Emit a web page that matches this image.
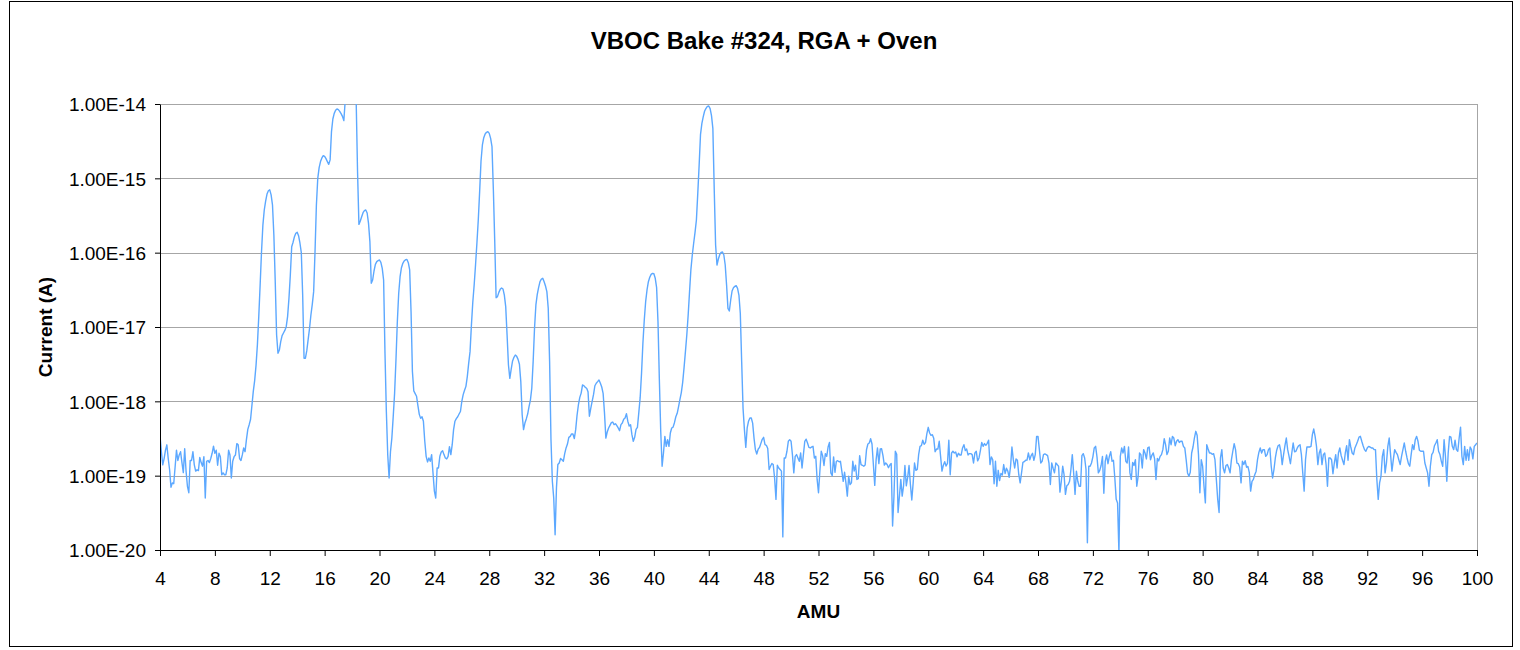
<!DOCTYPE html>
<html>
<head>
<meta charset="utf-8">
<script src="https://cdn.jsdelivr.net/npm/d3@7"></script>
<style>
	body { margin: 0; background: #fff; }
	text { font-family: 'Liberation Sans', Arial, sans-serif; fill: #000; }
</style>
</head>
<body>
<div class="container"></div>
<script>
var title = 'VBOC Bake #324, RGA + Oven';
var xTitle = 'AMU';
var yTitle = 'Current (A)';

var xTicks = [4, 8, 12, 16, 20, 24, 28, 32, 36, 40, 44, 48, 52, 56, 60, 64, 68, 72, 76, 80, 84, 88, 92, 96, 100];
var yTicks = [1e-20, 1e-19, 1e-18, 1e-17, 1e-16, 1e-15, 1e-14];

// scan starts at 4 AMU, one reading every 0.1 AMU
var amuStart = 4;
var amuStep = 0.1;

// current (A), one row per AMU
var current = [
	3.5e-19, 2.1e-19, 1.4e-19, 1.7e-19, 2.2e-19, 2.6e-19, 1.7e-19, 1.2e-19, 7.0e-20, 8.0e-20, // 4
	7.8e-20, 1.3e-19, 2.2e-19, 1.6e-19, 1.9e-19, 2.1e-19, 1.5e-19, 1.1e-19, 2.3e-19, 1.15e-19, // 5
	7.2e-20, 5.9e-20, 1.6e-19, 1.6e-19, 2.1e-19, 1.4e-19, 1.15e-19, 1.2e-19, 1.17e-19, 1.76e-19, // 6
	1.5e-19, 1.34e-19, 1.8e-19, 5.0e-20, 1.56e-19, 1.6e-19, 1.5e-19, 1.7e-19, 2.0e-19, 2.5e-19, // 7
	2.0e-19, 2.2e-19, 1.38e-19, 2.0e-19, 1.8e-19, 1.03e-19, 1.09e-19, 1.03e-19, 1.03e-19, 1.27e-19, // 8
	2.2e-19, 1.9e-19, 9.3e-20, 1.56e-19, 1.8e-19, 1.9e-19, 2.7e-19, 2.6e-19, 1.7e-19, 1.6e-19, // 9
	1.9e-19, 2.36e-19, 2.1e-19, 3.05e-19, 4.2e-19, 4.85e-19, 5.7e-19, 8.8e-19, 1.36e-18, 1.9e-18, // 10
	3.05e-18, 5.8e-18, 1.39e-17, 3.7e-17, 1.03e-16, 2.35e-16, 3.75e-16, 4.95e-16, 6.15e-16, 6.8e-16, // 11
	7.0e-16, 6.0e-16, 4.38e-16, 1.73e-16, 4.07e-17, 7.8e-18, 4.43e-18, 4.9e-18, 6.35e-18, 7.65e-18, // 12
	8.3e-18, 9.0e-18, 1.01e-17, 1.38e-17, 2.43e-17, 5.0e-17, 1.2e-16, 1.38e-16, 1.64e-16, 1.82e-16, // 13
	1.88e-16, 1.69e-16, 1.35e-16, 1.0e-16, 2.7e-17, 3.79e-18, 3.8e-18, 4.8e-18, 6.8e-18, 9.6e-18, // 14
	1.45e-17, 2.02e-17, 2.99e-17, 1.03e-16, 4.38e-16, 1.0e-15, 1.39e-15, 1.68e-15, 1.88e-15, 2.02e-15, // 15
	1.98e-15, 1.84e-15, 1.68e-15, 1.54e-15, 1.77e-15, 4.25e-15, 6.28e-15, 7.48e-15, 8.22e-15, 8.57e-15, // 16
	8.39e-15, 7.97e-15, 7.41e-15, 6.82e-15, 5.97e-15, 1.1e-14, 1.3e-14, 1.4e-14, 1.5e-14, 1.5e-14, // 17
	1.5e-14, 1.4e-14, 1.3e-14, 1.1e-14, 1.23e-15, 2.4e-16, 2.67e-16, 3.05e-16, 3.45e-16, 3.67e-16, // 18
	3.75e-16, 3.42e-16, 2.48e-16, 1.41e-16, 3.87e-17, 4.29e-17, 5.67e-17, 6.97e-17, 7.57e-17, 7.8e-17, // 19
	7.97e-17, 7.41e-17, 6.15e-17, 4.29e-17, 4.43e-18, 7.26e-19, 1.92e-19, 9.3e-20, 2.1e-19, 3.2e-19, // 20
	6.22e-19, 1.28e-18, 3.6e-18, 1.18e-17, 2.84e-17, 4.75e-17, 6.28e-17, 7.19e-17, 7.73e-17, 8.05e-17, // 21
	8.1e-17, 7.33e-17, 5.85e-17, 1.61e-17, 2.51e-18, 1.38e-18, 1.27e-18, 1.17e-18, 8.75e-19, 6.68e-19, // 22
	5.9e-19, 6.2e-19, 5.4e-19, 2.9e-19, 1.82e-19, 1.53e-19, 1.73e-19, 1.56e-19, 1.92e-19, 1.09e-19, // 23
	6.2e-20, 5.0e-20, 1.27e-19, 1.27e-19, 1.82e-19, 2.08e-19, 2.17e-19, 1.92e-19, 1.73e-19, 1.68e-19, // 24
	1.82e-19, 2.46e-19, 1.92e-19, 2.61e-19, 4.16e-19, 5.4e-19, 5.85e-19, 6.2e-19, 6.75e-19, 7.3e-19, // 25
	1.0e-18, 1.23e-18, 1.41e-18, 1.59e-18, 2.15e-18, 3.24e-18, 4.66e-18, 1.06e-17, 2.15e-17, 3.67e-17, // 26
	6.83e-17, 1.34e-16, 2.75e-16, 6.62e-16, 1.71e-15, 2.81e-15, 3.52e-15, 3.95e-15, 4.16e-15, 4.25e-15, // 27
	4.03e-15, 3.45e-15, 2.67e-15, 7.0e-16, 1.41e-16, 2.48e-17, 2.56e-17, 2.92e-17, 3.21e-17, 3.35e-17, // 28
	3.25e-17, 2.69e-17, 1.88e-17, 7.8e-18, 3.08e-18, 2.04e-18, 2.72e-18, 3.49e-18, 3.91e-18, 4.2e-18, // 29
	4.03e-18, 3.67e-18, 3.15e-18, 1.84e-18, 6.6e-19, 4.16e-19, 5.1e-19, 5.8e-19, 6.75e-19, 8.48e-19, // 30
	1.04e-18, 1.5e-18, 3.42e-18, 9.6e-18, 1.98e-17, 2.75e-17, 3.42e-17, 4.07e-17, 4.42e-17, 4.52e-17, // 31
	4.07e-17, 3.56e-17, 2.99e-17, 1.78e-17, 3.42e-18, 3.05e-19, 8.4e-20, 5.0e-20, 1.6e-20, 6.9e-20, // 32
	1.41e-19, 1.48e-19, 1.7e-19, 1.64e-19, 1.56e-19, 1.98e-19, 2.36e-19, 2.66e-19, 3.28e-19, 3.38e-19, // 33
	3.64e-19, 3.64e-19, 3.15e-19, 4.16e-19, 6.5e-19, 9.0e-19, 1.13e-18, 1.29e-18, 1.66e-18, 1.62e-18, // 34
	1.54e-18, 1.5e-18, 1.35e-18, 6.3e-19, 8.05e-19, 1.0e-18, 1.23e-18, 1.62e-18, 1.75e-18, 1.84e-18, // 35
	1.94e-18, 1.75e-18, 1.56e-18, 1.28e-18, 7.0e-19, 3.2e-19, 3.87e-19, 4.38e-19, 4.75e-19, 5.16e-19, // 36
	5.27e-19, 4.86e-19, 5.0e-19, 4.7e-19, 4.38e-19, 4.03e-19, 4.86e-19, 5.1e-19, 5.73e-19, 5.97e-19, // 37
	6.83e-19, 5.4e-19, 4.66e-19, 4.86e-19, 3.56e-19, 2.9e-19, 3.28e-19, 4.2e-19, 4.47e-19, 7.0e-19, // 38
	1.12e-18, 2.38e-18, 6.03e-18, 1.24e-17, 2.19e-17, 3.15e-17, 4.07e-17, 4.66e-17, 5.11e-17, 5.27e-17, // 39
	5.2e-17, 4.52e-17, 3.38e-17, 1.18e-17, 1.94e-18, 3.95e-19, 1.34e-19, 2.02e-19, 3.38e-19, 2.48e-19, // 40
	3.05e-19, 2.48e-19, 3.75e-19, 4.38e-19, 4.5e-19, 5.16e-19, 6.2e-19, 6.9e-19, 8.48e-19, 1.06e-18, // 41
	1.31e-18, 1.8e-18, 2.84e-18, 4.66e-18, 7.8e-18, 1.45e-17, 2.99e-17, 5.97e-17, 9.3e-17, 1.34e-16, // 42
	1.88e-16, 2.75e-16, 6.28e-16, 1.51e-15, 3.91e-15, 5.5e-15, 6.76e-15, 8.05e-15, 8.74e-15, 9.3e-15, // 43
	9.4e-15, 8.65e-15, 6.97e-15, 4.7e-15, 7.0e-16, 1.27e-16, 6.83e-17, 8.22e-17, 9.4e-17, 1.01e-16, // 44
	1.02e-16, 9.3e-17, 6.83e-17, 3.67e-17, 1.78e-17, 1.64e-17, 2.31e-17, 3.05e-17, 3.38e-17, 3.52e-17, // 45
	3.6e-17, 3.31e-17, 2.69e-17, 1.53e-17, 3.42e-18, 8.05e-19, 4.16e-19, 2.4e-19, 4.38e-19, 5.4e-19, // 46
	5.97e-19, 5.97e-19, 5.1e-19, 3.2e-19, 2.24e-19, 1.96e-19, 2.27e-19, 2.4e-19, 2.72e-19, 3.08e-19, // 47
	3.28e-19, 2.61e-19, 2.56e-19, 2.32e-19, 1.21e-19, 1.34e-19, 1.46e-19, 1.41e-19, 9.3e-20, 4.8e-20, // 48
	1.38e-19, 1.27e-19, 1.21e-19, 1.15e-19, 1.5e-20, 1.73e-19, 1.73e-19, 2.13e-19, 2.9e-19, 3.05e-19, // 49
	2.9e-19, 1.92e-19, 1.09e-19, 1.82e-19, 1.92e-19, 1.73e-19, 1.56e-19, 2.02e-19, 1.27e-19, 1.92e-19, // 50
	2.9e-19, 3.1e-19, 2.75e-19, 2.4e-19, 2.36e-19, 2.43e-19, 2.48e-19, 1.73e-19, 1.82e-19, 8.9e-20, // 51
	5.9e-20, 1.15e-19, 2.13e-19, 1.86e-19, 1.37e-19, 1.98e-19, 1.82e-19, 2.43e-19, 2.8e-19, 1.09e-19, // 52
	1.0e-19, 1.79e-19, 1.11e-19, 1.56e-19, 1.59e-19, 1.54e-19, 1.56e-19, 1.15e-19, 8.4e-20, 1.11e-19, // 53
	8.0e-20, 5.3e-20, 9.8e-20, 7.6e-20, 8.0e-20, 1.56e-19, 1.15e-19, 1.38e-19, 8.9e-20, 9.1e-20, // 54
	1.86e-19, 1.41e-19, 1.38e-19, 1.34e-19, 1.39e-19, 2.24e-19, 2.67e-19, 2.75e-19, 3.14e-19, 2.67e-19, // 55
	1.41e-19, 7.4e-20, 1.64e-19, 2.36e-19, 1.45e-19, 2.28e-19, 2.3e-19, 1.86e-19, 1.39e-19, 1.48e-19, // 56
	1.41e-19, 1.28e-19, 1.39e-19, 1.46e-19, 2.1e-20, 5.3e-20, 2.13e-19, 1.94e-19, 3.2e-20, 5.3e-20, // 57
	8.9e-20, 5.3e-20, 7.3e-20, 1.37e-19, 7.3e-20, 9.5e-20, 1.37e-19, 7.6e-20, 4.7e-20, 8.0e-20, // 58
	1.48e-19, 1.18e-19, 1.21e-19, 1.92e-19, 2.48e-19, 2.53e-19, 3.0e-19, 2.64e-19, 2.78e-19, 3.68e-19, // 59
	4.47e-19, 3.75e-19, 3.49e-19, 3.56e-19, 3.18e-19, 2.1e-19, 2.28e-19, 2.28e-19, 2.9e-19, 1.82e-19, // 60
	1.15e-19, 1.38e-19, 1.54e-19, 1.35e-19, 1.46e-19, 3.0e-19, 1.03e-19, 2.02e-19, 2.13e-19, 2.02e-19, // 61
	2.08e-19, 1.79e-19, 2.0e-19, 1.9e-19, 1.9e-19, 2.36e-19, 2.61e-19, 2.17e-19, 2.28e-19, 1.9e-19, // 62
	1.98e-19, 1.98e-19, 1.92e-19, 1.48e-19, 2.02e-19, 2.13e-19, 1.58e-19, 1.73e-19, 2.17e-19, 2.8e-19, // 63
	2.48e-19, 2.7e-19, 2.56e-19, 2.72e-19, 3.0e-19, 1.41e-19, 1.79e-19, 1.64e-19, 7.8e-20, 1.56e-19, // 64
	7.2e-20, 1.18e-19, 8.6e-20, 1.07e-19, 1.02e-19, 1.41e-19, 1.07e-19, 1.26e-19, 1.15e-19, 9.5e-20, // 65
	1.34e-19, 2.43e-19, 1.64e-19, 1.27e-19, 1.68e-19, 1.61e-19, 1.03e-19, 8.0e-20, 1.09e-19, 1.51e-19, // 66
	1.54e-19, 1.61e-19, 1.62e-19, 2.02e-19, 1.64e-19, 1.86e-19, 2.0e-19, 1.61e-19, 1.92e-19, 3.38e-19, // 67
	3.38e-19, 2.24e-19, 1.48e-19, 1.56e-19, 1.92e-19, 1.96e-19, 1.92e-19, 1.86e-19, 1.48e-19, 7.6e-20, // 68
	1.48e-19, 1.26e-19, 1.09e-19, 1.48e-19, 1.41e-19, 1.34e-19, 6.0e-20, 8.4e-20, 1.34e-19, 1.03e-19, // 69
	5.6e-20, 7.3e-20, 7.6e-20, 8.4e-20, 1.21e-19, 1.92e-19, 1.09e-19, 5.6e-20, 1.15e-19, 8.4e-20, // 70
	7.2e-20, 7.2e-20, 1.86e-19, 1.98e-19, 1.73e-19, 1.21e-19, 1.25e-20, 1.34e-19, 1.34e-19, 1.48e-19, // 71
	1.79e-19, 2.36e-19, 2.48e-19, 1.79e-19, 1.09e-19, 1.18e-19, 1.37e-19, 1.82e-19, 5.8e-20, 1.56e-19, // 72
	1.9e-19, 1.45e-19, 1.82e-19, 2.1e-19, 1.56e-19, 1.61e-19, 9.3e-20, 4.8e-20, 4.3e-20, 9.0e-21, // 73
	1.82e-19, 2.36e-19, 2.02e-19, 2.48e-19, 1.56e-19, 1.48e-19, 2.43e-19, 1.09e-19, 8.9e-20, 1.51e-19, // 74
	1.37e-19, 1.64e-19, 7.2e-20, 9.8e-20, 2.02e-19, 1.92e-19, 1.27e-19, 2.24e-19, 2.02e-19, 1.68e-19, // 75
	2.36e-19, 2.43e-19, 1.64e-19, 1.88e-19, 2.02e-19, 1.68e-19, 8.9e-20, 1.71e-19, 1.58e-19, 1.82e-19, // 76
	1.92e-19, 2.24e-19, 3.14e-19, 2.61e-19, 1.92e-19, 2.13e-19, 3.21e-19, 2.61e-19, 3.38e-19, 3.21e-19, // 77
	2.53e-19, 2.9e-19, 3.05e-19, 2.8e-19, 2.9e-19, 2.9e-19, 2.48e-19, 2.36e-19, 1.64e-19, 1.09e-19, // 78
	9.8e-20, 1.11e-19, 2.02e-19, 2.43e-19, 3.21e-19, 3.95e-19, 3.49e-19, 1.92e-19, 5.9e-20, 1.64e-19, // 79
	1.34e-19, 7.2e-20, 4.3e-20, 2.61e-19, 2.28e-19, 2.02e-19, 2.02e-19, 1.94e-19, 1.98e-19, 1.64e-19, // 80
	8.9e-20, 4.8e-20, 3.2e-20, 1.73e-19, 2.24e-19, 1.27e-19, 1.09e-19, 1.37e-19, 1.41e-19, 1.27e-19, // 81
	1.09e-19, 1.64e-19, 2.13e-19, 2.7e-19, 2.24e-19, 1.48e-19, 1.45e-19, 1.31e-19, 8.0e-20, 1.56e-19, // 82
	1.41e-19, 1.59e-19, 1.3e-19, 1.33e-19, 1.11e-19, 6.2e-20, 8.4e-20, 8.9e-20, 1.03e-19, 1.15e-19, // 83
	1.64e-19, 2.06e-19, 2.36e-19, 2.02e-19, 2.24e-19, 2.24e-19, 1.82e-19, 1.92e-19, 2.24e-19, 2.36e-19, // 84
	1.34e-19, 9.3e-20, 1.21e-19, 1.73e-19, 2.2e-19, 2.53e-19, 2.61e-19, 2.13e-19, 1.41e-19, 1.92e-19, // 85
	2.53e-19, 3.21e-19, 2.24e-19, 1.82e-19, 1.45e-19, 2.02e-19, 2.75e-19, 2.1e-19, 2.13e-19, 2.36e-19, // 86
	2.53e-19, 2.61e-19, 1.92e-19, 1.09e-19, 6.2e-20, 1.64e-19, 2.43e-19, 2.43e-19, 2.43e-19, 2.48e-19, // 87
	3.56e-19, 4.24e-19, 3.38e-19, 2.48e-19, 1.41e-19, 2.02e-19, 2.28e-19, 1.41e-19, 1.92e-19, 2.02e-19, // 88
	1.41e-19, 7.2e-20, 1.73e-19, 1.73e-19, 1.64e-19, 1.06e-19, 1.48e-19, 1.92e-19, 1.27e-19, 2.02e-19, // 89
	2.36e-19, 1.86e-19, 1.61e-19, 1.41e-19, 2.02e-19, 2.53e-19, 1.61e-19, 3.05e-19, 2.43e-19, 2.02e-19, // 90
	1.92e-19, 2.36e-19, 2.61e-19, 2.9e-19, 3.3e-19, 3.38e-19, 2.9e-19, 2.53e-19, 2.24e-19, 2.13e-19, // 91
	2.36e-19, 2.48e-19, 2.43e-19, 2.36e-19, 2.36e-19, 2.24e-19, 2.24e-19, 8.9e-20, 4.8e-20, 8.0e-20, // 92
	9.8e-20, 1.82e-19, 2.24e-19, 1.09e-19, 1.48e-19, 2.48e-19, 3.21e-19, 1.92e-19, 1.15e-19, 1.64e-19, // 93
	2.24e-19, 2.06e-19, 1.92e-19, 1.64e-19, 1.41e-19, 1.82e-19, 2.24e-19, 2.75e-19, 2.13e-19, 1.73e-19, // 94
	1.45e-19, 1.34e-19, 1.92e-19, 2.61e-19, 2.24e-19, 3.05e-19, 3.38e-19, 2.9e-19, 2.2e-19, 2.13e-19, // 95
	2.13e-19, 2.13e-19, 1.48e-19, 1.27e-19, 1.09e-19, 7.2e-20, 1.34e-19, 1.92e-19, 2.06e-19, 2.53e-19, // 96
	2.75e-19, 3.05e-19, 2.13e-19, 1.92e-19, 1.56e-19, 1.34e-19, 3.05e-19, 1.82e-19, 8.4e-20, 2.02e-19, // 97
	3.38e-19, 3.3e-19, 2.48e-19, 2.24e-19, 3.0e-19, 2.24e-19, 2.13e-19, 3.21e-19, 4.5e-19, 1.82e-19, // 98
	1.41e-19, 2.48e-19, 1.61e-19, 2.24e-19, 1.61e-19, 2.43e-19, 2.24e-19, 1.68e-19, 2.48e-19, 2.61e-19, // 99
	2.75e-19 // 100
];

var data = current.map(function(d, i) {
	return { amu: amuStart + i * amuStep, value: d };
});

// plot area edges in pixels
var plotLeft = 160,
	plotRight = 1477,
	plotTop = 104,
	plotBottom = 550;

var svg = d3
	.select('.container')
	.append('svg')
	.attr('width', 1520)
	.attr('height', 650);

// outer frame
svg
	.append('rect')
	.attr('x', 9.5)
	.attr('y', 1.5)
	.attr('width', 1503)
	.attr('height', 645)
	.attr('fill', '#fff')
	.attr('stroke', '#000')
	.attr('stroke-width', 1);

var x = d3
	.scaleLinear()
	.domain([xTicks[0], xTicks[xTicks.length - 1]])
	.range([plotLeft, plotRight]);

var y = d3
	.scaleLog()
	.domain([yTicks[0], yTicks[yTicks.length - 1]])
	.range([plotBottom, plotTop]);

// gridlines (all decades above the bottom axis)
svg
	.append('g')
	.selectAll('line')
	.data(yTicks.slice(1))
	.enter()
	.append('line')
	.attr('x1', plotLeft)
	.attr('x2', plotRight)
	.attr('y1', function(d) {
		return Math.round(y(d)) + 0.5;
	})
	.attr('y2', function(d) {
		return Math.round(y(d)) + 0.5;
	})
	.attr('stroke', '#a6a6a6')
	.attr('stroke-width', 1);

// right edge of plot area
svg
	.append('line')
	.attr('x1', plotRight + 0.5)
	.attr('x2', plotRight + 0.5)
	.attr('y1', plotTop)
	.attr('y2', plotBottom)
	.attr('stroke', '#a6a6a6');

svg
	.append('clipPath')
	.attr('id', 'plot')
	.append('rect')
	.attr('x', plotLeft)
	.attr('y', plotTop)
	.attr('width', plotRight - plotLeft)
	.attr('height', plotBottom - plotTop);

var line = d3
	.line()
	.x(function(d) {
		return x(d.amu);
	})
	.y(function(d) {
		return y(d.value);
	});

svg
	.append('path')
	.datum(data)
	.attr('clip-path', 'url(#plot)')
	.attr('fill', 'none')
	.attr('stroke', '#5ca8ff')
	.attr('stroke-width', 1.4)
	.attr('stroke-linejoin', 'round')
	.attr('d', line);

var yAxis = svg
	.append('g')
	.attr('transform', 'translate(' + plotLeft + ',0)')
	.call(
		d3
			.axisLeft(y)
			.tickValues(yTicks)
			.tickFormat(function(d) {
				return '1.00E' + Math.round(Math.log10(d));
			})
			.tickSize(5)
			.tickSizeOuter(0)
			.tickPadding(9)
	);

yAxis
	.selectAll('text')
	.attr('dy', '0.36em')
	.style('font-size', '19px');

var xAxis = svg
	.append('g')
	.attr('transform', 'translate(0,' + plotBottom + ')')
	.call(
		d3
			.axisBottom(x)
			.tickValues(xTicks)
			.tickSize(6)
			.tickSizeOuter(0)
	);

xAxis
	.selectAll('text')
	.attr('dy', null)
	.attr('y', 35)
	.style('font-size', '19px');

svg.selectAll('.domain, .tick line').attr('stroke', '#000');

svg
	.append('text')
	.attr('x', 764)
	.attr('y', 49)
	.attr('text-anchor', 'middle')
	.style('font-size', '24px')
	.style('font-weight', 'bold')
	.text(title);

svg
	.append('text')
	.attr('x', (plotLeft + plotRight) / 2)
	.attr('y', 618)
	.attr('text-anchor', 'middle')
	.style('font-size', '19px')
	.style('font-weight', 'bold')
	.text(xTitle);

svg
	.append('text')
	.attr('transform', 'translate(52,' + (plotTop + plotBottom) / 2 + ') rotate(-90)')
	.attr('text-anchor', 'middle')
	.style('font-size', '19px')
	.style('font-weight', 'bold')
	.text(yTitle);
</script>
</body>
</html>
